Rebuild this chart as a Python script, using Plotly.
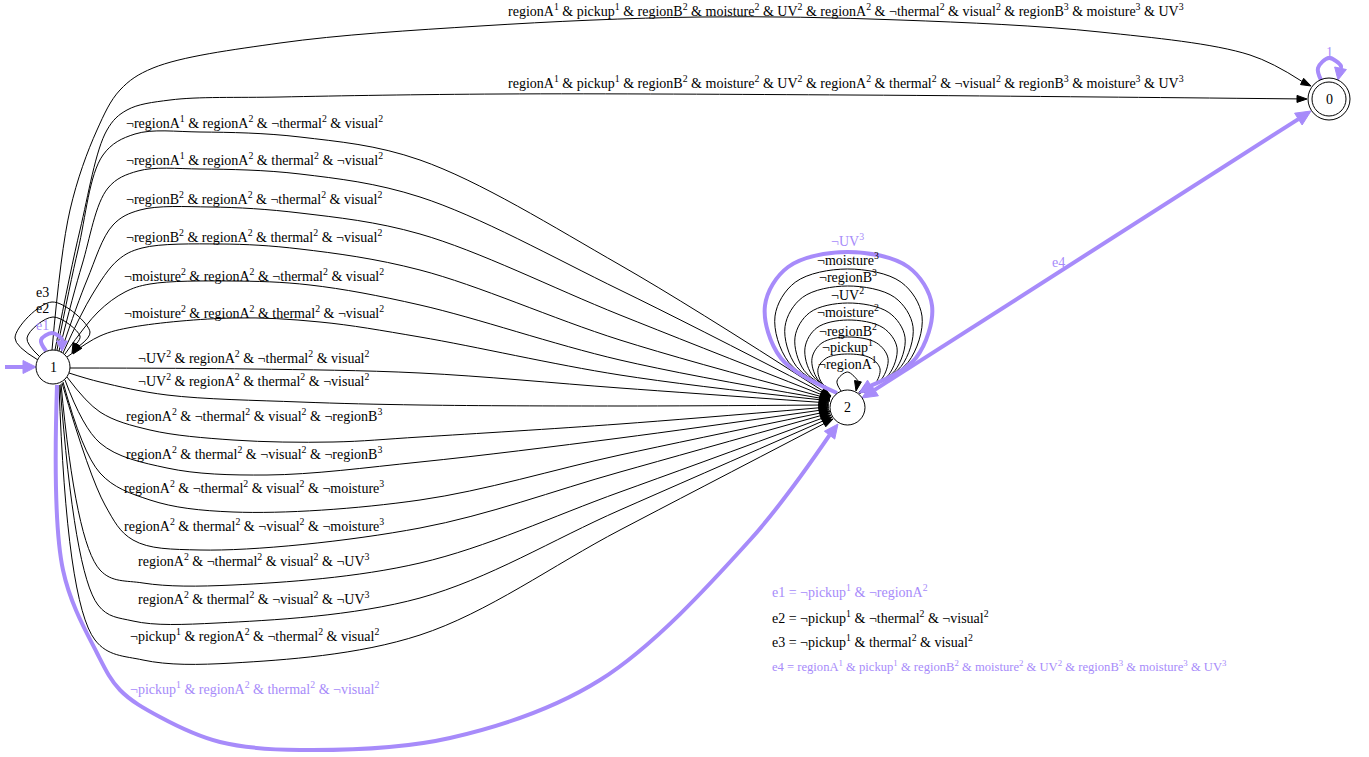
import re
import numpy as np
import plotly.graph_objects as go

W, H = 1369, 757
BLACK = "#000000"
PURPLE = "#a78bfa"
FONT = "Liberation Serif, Times New Roman, serif"

# ---------------- data (text) ----------------
node_names = ["0", "1", "2"]
node_accepting = [True, False, False]

edge12_labels = [
    "¬regionA^1 & regionA^2 & ¬thermal^2 & visual^2",
    "¬regionA^1 & regionA^2 & thermal^2 & ¬visual^2",
    "¬regionB^2 & regionA^2 & ¬thermal^2 & visual^2",
    "¬regionB^2 & regionA^2 & thermal^2 & ¬visual^2",
    "¬moisture^2 & regionA^2 & ¬thermal^2 & visual^2",
    "¬moisture^2 & regionA^2 & thermal^2 & ¬visual^2",
    "¬UV^2 & regionA^2 & ¬thermal^2 & visual^2",
    "¬UV^2 & regionA^2 & thermal^2 & ¬visual^2",
    "regionA^2 & ¬thermal^2 & visual^2 & ¬regionB^3",
    "regionA^2 & thermal^2 & ¬visual^2 & ¬regionB^3",
    "regionA^2 & ¬thermal^2 & visual^2 & ¬moisture^3",
    "regionA^2 & thermal^2 & ¬visual^2 & ¬moisture^3",
    "regionA^2 & ¬thermal^2 & visual^2 & ¬UV^3",
    "regionA^2 & thermal^2 & ¬visual^2 & ¬UV^3",
    "¬pickup^1 & regionA^2 & ¬thermal^2 & visual^2",
    "¬pickup^1 & regionA^2 & thermal^2 & ¬visual^2",
]
edge12_highlight = [False] * 15 + [True]

edge10_labels = [
    "regionA^1 & pickup^1 & regionB^2 & moisture^2 & UV^2 & regionA^2 & ¬thermal^2 & visual^2 & regionB^3 & moisture^3 & UV^3",
    "regionA^1 & pickup^1 & regionB^2 & moisture^2 & UV^2 & regionA^2 & thermal^2 & ¬visual^2 & regionB^3 & moisture^3 & UV^3",
]

loop2_labels = ["¬regionA^1", "¬pickup^1", "¬regionB^2", "¬moisture^2",
                "¬UV^2", "¬regionB^3", "¬moisture^3", "¬UV^3"]
loop2_highlight = [False] * 7 + [True]

loop1_labels = ["e1", "e2", "e3"]
loop1_highlight = [True, False, False]

legend_lines = [
    "e1 = ¬pickup^1 & ¬regionA^2",
    "e2 = ¬pickup^1 & ¬thermal^2 & ¬visual^2",
    "e3 = ¬pickup^1 & thermal^2 & visual^2",
    "e4 = regionA^1 & pickup^1 & regionB^2 & moisture^2 & UV^2 & regionB^3 & moisture^3 & UV^3",
]
legend_highlight = [True, False, False, True]

# ---------------- layout (pixel positions) ----------------
node_x = [1329, 53, 847.5]
node_y = [99, 367, 407.5]
node_r = [17, 17, 17.5]
accept_r = 21

edge12_label_y = [122, 159, 198, 236, 275, 312, 357, 380, 415, 453, 487, 525, 560, 598, 635, 688]
edge12_label_x = 254
edge12_paths = [
    [(57, 350), (78, 250), (103, 155), (135, 134), (200, 132), (300, 137), (420, 160), (620, 265), (831, 396)],
    [(59, 351), (82, 265), (108, 188), (138, 171), (200, 169), (300, 174), (420, 197), (620, 290), (831, 397)],
    [(61, 352), (87, 280), (113, 225), (140, 210), (210, 207), (300, 213), (420, 234), (620, 315), (830, 398)],
    [(63, 353), (92, 295), (118, 260), (142, 248), (220, 244), (300, 249), (420, 270), (620, 340), (830, 399)],
    [(65, 354), (98, 312), (125, 292), (150, 284), (230, 281), (310, 285), (420, 305), (620, 360), (830, 400)],
    [(67, 357), (100, 336), (133, 327), (233, 318), (320, 322), (420, 337), (620, 375), (830, 401)],
    [(70, 368), (250, 369), (420, 373), (620, 388), (829, 403)],
    [(69, 373), (100, 382), (167, 395), (300, 402), (420, 405), (620, 406), (829, 405)],
    [(67, 377), (100, 412), (150, 430), (233, 440), (333, 442), (420, 437), (620, 424), (829, 407)],
    [(65, 380), (100, 443), (167, 468), (267, 475), (420, 462), (620, 438), (829, 409)],
    [(63, 382), (100, 473), (150, 500), (233, 512), (420, 500), (620, 455), (830, 411)],
    [(62, 383), (105, 505), (133, 540), (200, 550), (420, 528), (620, 472), (830, 413)],
    [(61, 384), (100, 570), (143, 583), (233, 585), (420, 563), (620, 492), (831, 415)],
    [(60, 385), (98, 605), (133, 621), (217, 623), (420, 598), (620, 510), (832, 417)],
    [(59, 385), (95, 640), (143, 660), (233, 663), (420, 635), (620, 530), (833, 419)],
    [(57, 385), (63, 570), (97, 653), (120, 690), (160, 717), (220, 742), (300, 750),
     (450, 738), (600, 680), (750, 540), (838, 424)],
]

edge10_label_y = [10, 82]
edge10_label_x = 846
edge10_paths = [
    [(52, 350), (70, 210), (97, 130), (120, 90), (153, 68), (280, 43), (480, 26), (700, 17),
     (900, 20), (1100, 32), (1250, 55), (1311, 86)],
    [(55, 350), (80, 230), (107, 130), (127, 110), (170, 100), (280, 97), (500, 94),
     (850, 95), (1100, 97), (1307, 99)],
]

loop2_label_y = [363, 346, 330, 311, 294, 276, 259, 240]
loop2_top = [372, 354, 337, 320, 303, 286, 269, 252]
loop2_xl = [837, 818, 812, 805, 795, 785, 775, 765]
loop2_xr = [858, 880, 888, 897, 905, 913, 922, 932]
loop2_start = (837, 393)
loop2_end = (859, 393)

loop1_label_y = [325, 308, 292]
loop1_label_x = 42
loop1_paths = [
    [(46, 351), (41, 340), (52, 333), (62, 339), (62, 351)],
    [(40, 357), (27, 338), (53, 317), (80, 336), (72, 353)],
    [(38, 360), (15, 338), (52, 302), (90, 332), (73, 354)],
]

loop0_path = [(1321, 80), (1318, 68), (1329, 58), (1341, 66), (1338, 80)]
loop0_label = "1"
loop0_label_xy = (1329, 52)

init_path = [(5, 367), (36, 367)]
e4_path = [(862, 398), (1311, 111)]
e4_label_xy = (1058, 262)

legend_x = 770
legend_y = [591, 617, 641, 666]
legend_size = [14, 14, 14, 12.6]


def sup(s):
    return re.sub(r"\^(\d)", r"<sup>\1</sup>", s)


fig = go.Figure()


def add_head(tip, prev, color, length, half):
    tip = np.array(tip, float)
    d = tip - np.array(prev, float)
    d /= np.linalg.norm(d)
    n = np.array([-d[1], d[0]])
    base = tip - d * length
    p1, p2 = base + n * half, base - n * half
    fig.add_trace(go.Scatter(x=[tip[0], p1[0], p2[0], tip[0]], y=[tip[1], p1[1], p2[1], tip[1]],
                             mode="lines", fill="toself", fillcolor=color,
                             line=dict(color=color, width=1), hoverinfo="skip"))
    return base


def draw_edge(pts, color, width, hl, hw, head_end=True, head_start=False):
    xs = [p[0] for p in pts]
    ys = [p[1] for p in pts]
    if head_end:
        b = add_head(pts[-1], pts[-2], color, hl, hw)
        xs[-1], ys[-1] = b[0], b[1]
    if head_start:
        b = add_head(pts[0], pts[1], color, hl, hw)
        xs[0], ys[0] = b[0], b[1]
    fig.add_trace(go.Scatter(x=xs, y=ys, mode="lines",
                             line=dict(color=color, width=width, shape="spline", smoothing=1.0),
                             hoverinfo="skip"))


def label(x, y, text, color, size=14, anchor="center"):
    fig.add_annotation(x=x, y=y, xref="x", yref="y", text=sup(text), showarrow=False,
                       font=dict(family=FONT, size=size, color=color), xanchor=anchor, yanchor="middle")


# edges 1 -> 2
for pts, lab, ly, hi in zip(edge12_paths, edge12_labels, edge12_label_y, edge12_highlight):
    col = PURPLE if hi else BLACK
    if hi:
        draw_edge(pts, col, 4, 14, 6.5)
    else:
        draw_edge(pts, col, 1, 10, 3.5)
    label(edge12_label_x, ly, lab, col)

# edges 1 -> 0
for pts, lab, ly in zip(edge10_paths, edge10_labels, edge10_label_y):
    draw_edge(pts, BLACK, 1, 10, 3.5)
    label(edge10_label_x, ly, lab, BLACK)

# self loops on node 2 (balloon shapes through rounded waypoints)
cx2 = node_x[2]
sx, sy = loop2_start
ex, ey = loop2_end
for lab, ly, top, xl, xr, hi in zip(loop2_labels, loop2_label_y, loop2_top, loop2_xl, loop2_xr, loop2_highlight):
    ym = top + 0.38 * (sy - top)
    al, ar, b = cx2 - xl, xr - cx2, ym - top
    pts = [(sx, sy),
           (xl + 0.22 * (sx - xl), ym + 0.6 * (sy - ym)),
           (xl, ym),
           (cx2 - 0.72 * al, ym - 0.72 * b),
           (cx2, top),
           (cx2 + 0.72 * ar, ym - 0.72 * b),
           (xr, ym),
           (xr - 0.22 * (xr - ex), ym + 0.6 * (ey - ym)),
           (ex, ey)]
    if top > 365:
        pts = [(841, 391), (837, 381), (cx2, top), (858, 381), (856, 391)]
    col = PURPLE if hi else BLACK
    if hi:
        draw_edge(pts, col, 4, 14, 6.5)
    else:
        draw_edge(pts, col, 1, 10, 3.5)
    label(cx2, ly, lab, col)

# self loops on node 1
for pts, lab, ly, hi in zip(loop1_paths, loop1_labels, loop1_label_y, loop1_highlight):
    col = PURPLE if hi else BLACK
    if hi:
        draw_edge(pts, col, 4, 10, 5.5)
    else:
        draw_edge(pts, col, 1, 10, 3.5)
    label(loop1_label_x, ly, lab, col)

# self loop on node 0
draw_edge(loop0_path, PURPLE, 4, 12, 6)
label(loop0_label_xy[0], loop0_label_xy[1], loop0_label, PURPLE)

# initial arrow
draw_edge(init_path, PURPLE, 4, 13, 6.5)

# e4 edge (both directions)
draw_edge(e4_path, PURPLE, 4, 15, 7, head_end=True, head_start=True)
label(e4_label_xy[0], e4_label_xy[1], "e4", PURPLE)

# nodes
for name, x, y, r, acc in zip(node_names, node_x, node_y, node_r, node_accepting):
    fig.add_shape(type="circle", xref="x", yref="y", x0=x - r, x1=x + r, y0=y - r, y1=y + r,
                  line=dict(color=BLACK, width=1), fillcolor="white", layer="above")
    if acc:
        fig.add_shape(type="circle", xref="x", yref="y", x0=x - accept_r, x1=x + accept_r,
                      y0=y - accept_r, y1=y + accept_r, line=dict(color=BLACK, width=1),
                      fillcolor="rgba(0,0,0,0)", layer="above")
    label(x, y, name, BLACK)

# legend text
for t, y, hi, sz in zip(legend_lines, legend_y, legend_highlight, legend_size):
    label(legend_x, y, t, PURPLE if hi else BLACK, size=sz, anchor="left")

fig.update_layout(
    width=W, height=H, margin=dict(l=0, r=0, t=0, b=0),
    paper_bgcolor="white", plot_bgcolor="white", showlegend=False,
    hovermode=False,
    xaxis=dict(range=[0, W], visible=False, fixedrange=True),
    yaxis=dict(range=[H, 0], visible=False, fixedrange=True),
)
fig.write_html("out.html",
               config={"displayModeBar": False, "staticPlot": True},
               post_script="document.body.style.margin='0';document.body.style.overflow='hidden';")
